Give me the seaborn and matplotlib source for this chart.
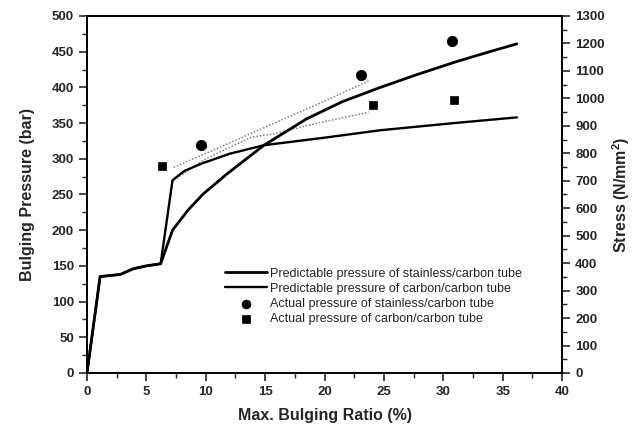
import numpy as np
import pandas as pd
import matplotlib
matplotlib.use("Agg")
import matplotlib.pyplot as plt
import seaborn as sns
from matplotlib.ticker import MultipleLocator

# predicted curves
ss_x = [0, 1.1, 2.8, 3.9, 5.0, 6.2, 7.2, 8.5, 9.8, 11.8, 14.9, 18.5, 21.5, 24.7, 27.8, 30.9, 33.5, 36.2]
ss_y = [0, 135, 138, 146, 150, 153, 200, 228, 251, 279, 319, 356, 380, 400, 418, 435, 448, 461]
cc_x = [0, 1.1, 2.8, 3.9, 5.0, 6.2, 7.2, 8.2, 9.6, 12.0, 14.9, 20.2, 24.7, 30.9, 36.2]
cc_y = [0, 135, 138, 146, 150, 153, 270, 283, 293, 307, 319, 330, 340, 350, 358]

# dotted trend lines through the measured points
dot1_x = [7.3, 10.9, 15.5, 19.5, 23.7]
dot1_y = [288, 314, 348, 377, 409]
dot2_x = [7.3, 10.0, 13.8, 15.7, 19.7, 23.7]
dot2_y = [270, 300, 330, 335, 351, 365]

# measured points
ss_px = [9.6, 23.1, 30.7]
ss_py = [320, 417, 465]
cc_px = [6.3, 24.1, 30.9]
cc_py = [290, 375, 382]

sns.set_style("ticks")
plt.rcParams['font.family'] = ['Liberation Sans', 'DejaVu Sans']

fig = plt.figure(figsize=(6.38, 4.30), dpi=100)
ax = fig.add_axes([0.1364, 0.1326, 0.7445, 0.8302])

sns.lineplot(x=dot1_x, y=dot1_y, ax=ax, sort=False, color='#808080', lw=1.1,
             linestyle=(0, (1, 1.2)))
sns.lineplot(x=dot2_x, y=dot2_y, ax=ax, sort=False, color='#808080', lw=1.1,
             linestyle=(0, (1, 1.2)))
sns.lineplot(x=ss_x, y=ss_y, ax=ax, sort=False, color='black', lw=2.0,
             label='Predictable pressure of stainless/carbon tube')
sns.lineplot(x=cc_x, y=cc_y, ax=ax, sort=False, color='black', lw=1.7,
             label='Predictable pressure of carbon/carbon tube')
sns.scatterplot(x=ss_px, y=ss_py, ax=ax, marker='o', s=55, color='black',
                edgecolor='black', label='Actual pressure of stainless/carbon tube')
sns.scatterplot(x=cc_px, y=cc_py, ax=ax, marker='s', s=38, color='black',
                edgecolor='black', label='Actual pressure of carbon/carbon tube')

ax.set_xlim(0, 40)
ax.set_ylim(0, 500)
ax.xaxis.set_major_locator(MultipleLocator(5))
ax.xaxis.set_minor_locator(MultipleLocator(2.5))
ax.yaxis.set_major_locator(MultipleLocator(50))
ax.yaxis.set_minor_locator(MultipleLocator(25))
ax.tick_params(which='major', direction='out', length=6, width=1.2, labelsize=9.5)
ax.tick_params(which='minor', direction='out', length=3.5, width=1.0)
for lab in ax.get_xticklabels() + ax.get_yticklabels():
    lab.set_fontweight('bold')
for sp in ax.spines.values():
    sp.set_visible(True)
    sp.set_linewidth(1.3)
    sp.set_color('black')

ax.set_xlabel('Max. Bulging Ratio (%)', fontsize=11.5, fontweight='bold', labelpad=7)
ax.set_ylabel('Bulging Pressure (bar)', fontsize=11.5, fontweight='bold', labelpad=12)

ax2 = ax.twinx()
ax2.set_ylim(0, 1300)
ax2.yaxis.set_major_locator(MultipleLocator(100))
ax2.yaxis.set_minor_locator(MultipleLocator(50))
ax2.tick_params(which='major', direction='out', length=6, width=1.2, labelsize=9.5)
ax2.tick_params(which='minor', direction='out', length=3.5, width=1.0)
for lab in ax2.get_yticklabels():
    lab.set_fontweight('bold')
for sp in ax2.spines.values():
    sp.set_visible(True)
    sp.set_linewidth(1.3)
    sp.set_color('black')
ax2.set_ylabel('Stress (N/mm$^\\mathregular{2}$)', fontsize=11.5, fontweight='bold', labelpad=4)

leg = ax.legend(loc='upper left', bbox_to_anchor=(0.29, 0.295), frameon=False,
                fontsize=9, handlelength=3.4, handletextpad=0.25, labelspacing=0.25,
                borderaxespad=0.0, borderpad=0.0, markerscale=0.85)

fig.savefig('out.png', dpi=100)
